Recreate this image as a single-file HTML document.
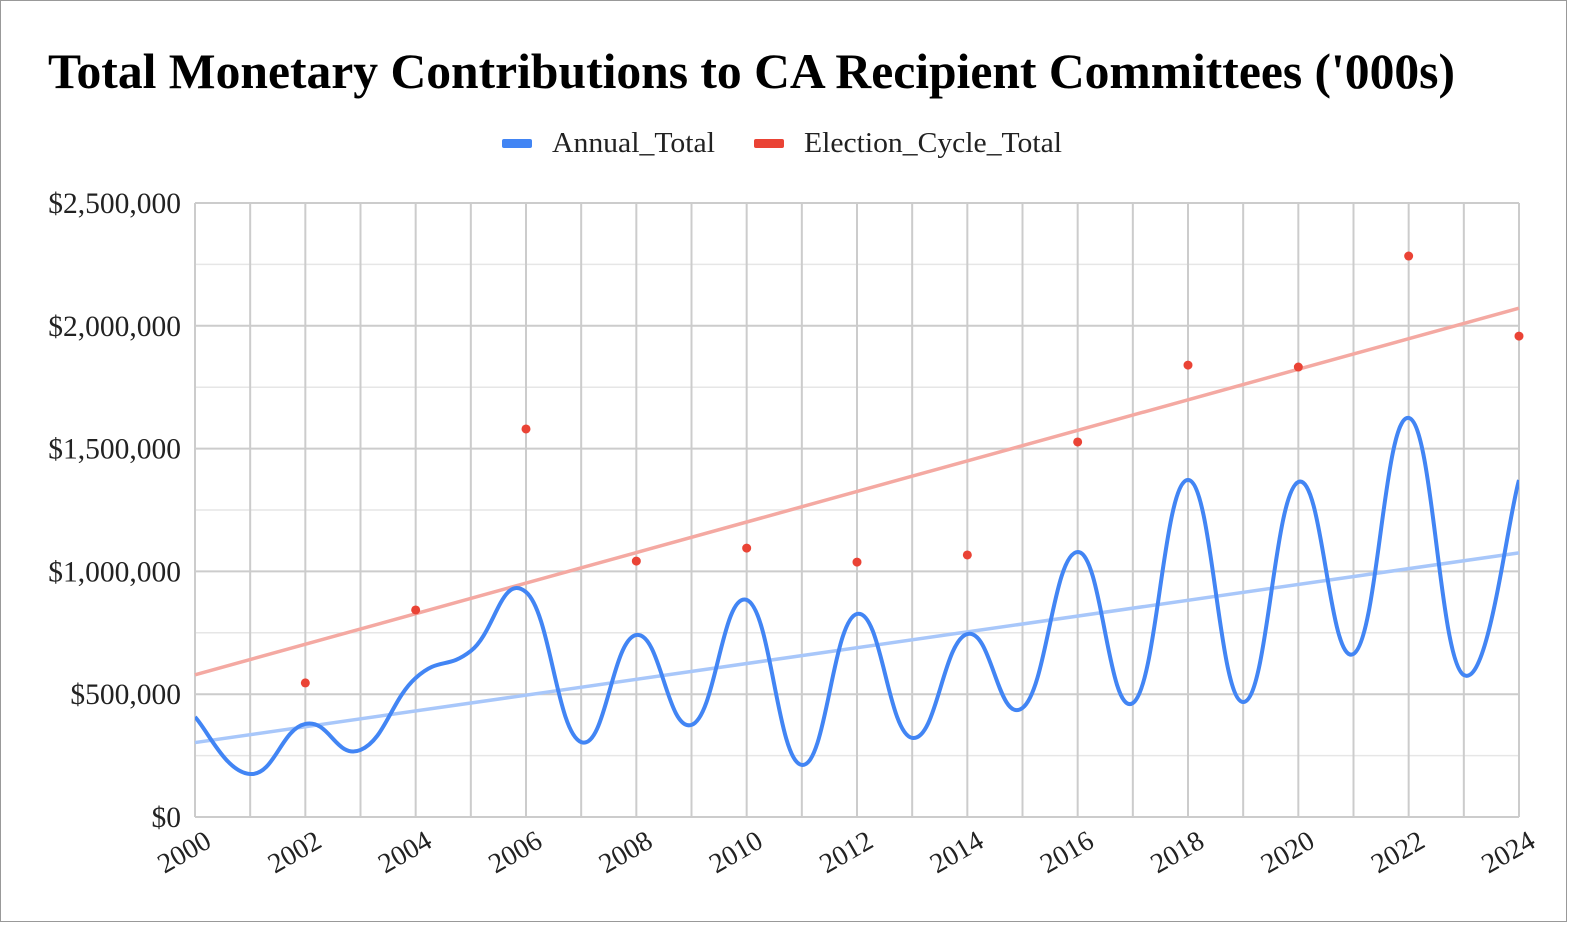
<!DOCTYPE html>
<html><head><meta charset="utf-8">
<style>
html,body{margin:0;padding:0;background:#fff;}
body{width:1582px;height:932px;overflow:hidden;}
svg{display:block;font-family:"Liberation Serif",serif;}
</style></head>
<body>
<svg id="chart" width="1582" height="932" viewBox="0 0 1582 932">
<rect x="0.5" y="0.5" width="1566" height="921" fill="#fff" stroke="#999"/>
<text x="48" y="88" font-size="50" font-weight="bold" fill="#000" textLength="1407" lengthAdjust="spacingAndGlyphs">Total Monetary Contributions to CA Recipient Committees ('000s)</text>
<g>
<g>
<rect x="502" y="139" width="30" height="9" fill="#4285f4" rx="2"/>
<text x="552" y="152" font-size="29" fill="#222" textLength="163" lengthAdjust="spacingAndGlyphs">Annual_Total</text></g>
<g>
<rect x="754" y="139" width="30" height="9" fill="#ea4335" rx="2"/>
<text x="804" y="152" font-size="29" fill="#222" textLength="258" lengthAdjust="spacingAndGlyphs">Election_Cycle_Total</text></g>
</g>
<g id="grid"></g>
<g id="marks"></g>
<g id="axes"></g>
</svg>
<script>
const years=[2000,2001,2002,2003,2004,2005,2006,2007,2008,2009,2010,2011,2012,2013,2014,2015,2016,2017,2018,2019,2020,2021,2022,2023,2024];
const annualTotal=[407000,175000,379000,273000,566000,676000,916000,305000,741000,375000,884000,212000,827000,322000,745000,444000,1079000,464000,1372000,468000,1364000,664000,1625000,578000,1372000];
const cycleYears=[2002,2004,2006,2008,2010,2012,2014,2016,2018,2020,2022,2024];
const cycleTotal=[546000,843000,1580000,1042000,1095000,1038000,1067000,1527000,1840000,1832000,2284000,1958000];
const yTicks=[0,500000,1000000,1500000,2000000,2500000];
const yTickLabels=["$0","$500,000","$1,000,000","$1,500,000","$2,000,000","$2,500,000"];
const xTickYears=[2000,2002,2004,2006,2008,2010,2012,2014,2016,2018,2020,2022,2024];

const NS="http://www.w3.org/2000/svg";
const L=195,R=1519,T=203,B=817;
const X=y=>L+(y-2000)/(2024-2000)*(R-L);
const Y=v=>B-v/2500000*(B-T);
function mk(tag,at,parent){const e=document.createElementNS(NS,tag);for(const k in at)e.setAttribute(k,at[k]);parent.appendChild(e);return e;}
const grid=document.getElementById('grid'),marks=document.getElementById('marks'),axes=document.getElementById('axes');
for(let v=0;v<=2500000;v+=250000){
  const g=mk('line',{x1:L,x2:R,y1:Y(v),y2:Y(v),stroke:v%500000===0?'#ccc':'#e6e6e6','stroke-width':v%500000===0?2:1.5},grid);
  
  
}
for(let yr=2000;yr<=2024;yr++){
  const g=mk('line',{x1:X(yr),x2:X(yr),y1:T,y2:B,stroke:'#ccc','stroke-width':2},grid);
  
  
}
function reg(xs,ys){const n=xs.length;let sx=0,sy=0,sxx=0,sxy=0;for(let i=0;i<n;i++){sx+=xs[i];sy+=ys[i];sxx+=xs[i]*xs[i];sxy+=xs[i]*ys[i];}const m=(n*sxy-sx*sy)/(n*sxx-sx*sx);return [m,(sy-m*sx)/n];}
const [ma,ba]=reg(years,annualTotal),[mc,bc]=reg(cycleYears,cycleTotal);
let t=mk('line',{x1:X(2000),y1:Y(ma*2000+ba),x2:X(2024),y2:Y(ma*2024+ba),stroke:'#a8c7fa','stroke-width':3.5},marks);


t=mk('line',{x1:X(2000),y1:Y(mc*2000+bc),x2:X(2024),y2:Y(mc*2024+bc),stroke:'#f4a9a2','stroke-width':3.5},marks);


const pts=years.map((y,i)=>[X(y),Y(annualTotal[i])]);
let d='M'+pts[0][0]+','+pts[0][1];
const k=0.22;
for(let i=0;i<pts.length-1;i++){
  const p0=pts[Math.max(0,i-1)],p1=pts[i],p2=pts[i+1],p3=pts[Math.min(pts.length-1,i+2)];
  const c1=[p1[0]+(p2[0]-p0[0])*k,p1[1]+(p2[1]-p0[1])*k];
  const c2=[p2[0]-(p3[0]-p1[0])*k,p2[1]-(p3[1]-p1[1])*k];
  d+=` C${c1[0]},${c1[1]} ${c2[0]},${c2[1]} ${p2[0]},${p2[1]}`;
}
const cp=mk('clipPath',{id:'clip'},marks);mk('rect',{x:L,y:T-20,width:R-L,height:B-T+40},cp);
const line=mk('path',{d:d,fill:'none',stroke:'#4285f4','stroke-width':4,'clip-path':'url(#clip)'},marks);


cycleYears.forEach((yr,i)=>{
  const c=mk('circle',{cx:X(yr),cy:Y(cycleTotal[i]),r:4.5,fill:'#ea4335'},marks);
  
  
});
yTicks.forEach((v,i)=>{
  const tx=mk('text',{x:181,y:Y(v)+10,'font-size':29.5,'text-anchor':'end',fill:'#222'},axes);
  tx.textContent=yTickLabels[i];
  
  
});
xTickYears.forEach(yr=>{
  const x=X(yr)+18,y=846;
  const tx=mk('text',{x:x,y:y,'font-size':28,'text-anchor':'end',fill:'#222',transform:`rotate(-30 ${x} ${y})`},axes);
  tx.textContent=String(yr);
  
  
});
</script>
</body></html>
